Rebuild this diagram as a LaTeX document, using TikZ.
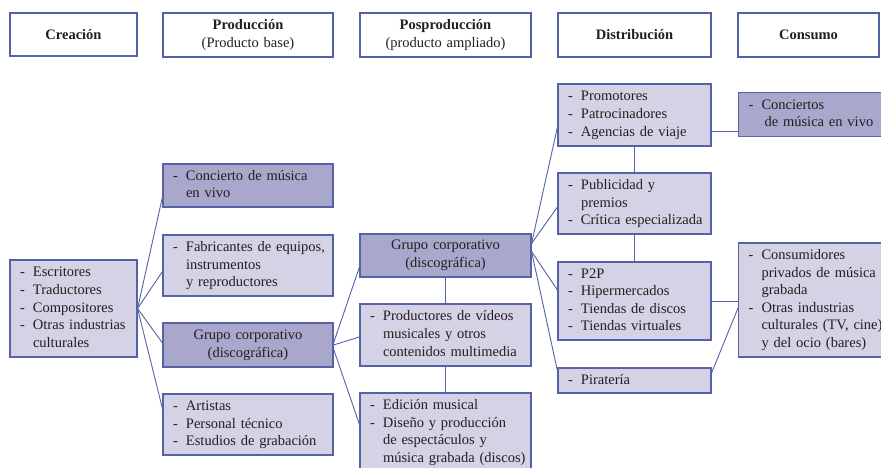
\documentclass[tikz,border=0pt]{standalone}
\usepackage{fontspec}
\setmainfont{Liberation Serif}
\usetikzlibrary{calc}
\definecolor{bord}{RGB}{85,98,168}
\definecolor{lightf}{RGB}{212,210,228}
\definecolor{darkf}{RGB}{169,167,204}
\definecolor{txt}{RGB}{35,31,32}
\newcommand{\dl}{\makebox[13pt][l]{-}}
\newcommand{\ind}{\hspace*{13pt}}
\newcommand{\lst}[1]{\begin{tabular}{@{}l@{}}#1\end{tabular}}
\begin{document}
\begin{tikzpicture}[x=1pt,y=-1pt,
  font=\fontsize{14.5}{17.6}\selectfont, text=txt,
  box/.style={draw=bord, line width=1.1pt, inner xsep=10pt, inner ysep=0pt, align=left},
  lt/.style={box, fill=lightf},
  dk/.style={box, fill=darkf},
  hdr/.style={box, fill=white, align=center},
  ctr/.style={align=center},
  wire/.style={draw=bord, line width=0.9pt}]
\useasboundingbox (0,0) rectangle (881,468);
\fill[white] (0,0) rectangle (881,468);

% headers
\node[hdr, minimum width=127pt, text width=107pt, minimum height=43pt] (hc) at (73.5,34.5) {\textbf{Creación}};
\node[hdr, minimum width=170pt, text width=150pt, minimum height=44pt] (hp) at (248,35) {\textbf{Producción}\\(Producto base)};
\node[hdr, minimum width=171pt, text width=151pt, minimum height=44pt] (hpp) at (445.5,35) {\textbf{Posproducción}\\(producto ampliado)};
\node[hdr, minimum width=153pt, text width=133pt, minimum height=44pt] (hdi) at (634.5,35) {\textbf{Distribución}};
\node[hdr, minimum width=141pt, text width=121pt, minimum height=44pt] (hco) at (808.5,35) {\textbf{Consumo}};

% creation
\node[lt, minimum width=127pt, text width=107pt, minimum height=97pt] (esc) at (73.5,308.5)
  {\lst{\dl Escritores\\\dl Traductores\\\dl Compositores\\\dl Otras industrias\\\ind culturales}};

% production
\node[dk, minimum width=170pt, text width=150pt, minimum height=43pt] (con) at (248,185.5)
  {\lst{\dl Concierto de música\\\ind en vivo}};
\node[lt, minimum width=170pt, text width=150pt, minimum height=61pt] (fab) at (248,265.5)
  {\lst{\dl Fabricantes de equipos,\\\ind instrumentos\\\ind y reproductores}};
\node[dk, ctr, minimum width=170pt, text width=150pt, minimum height=44pt] (gp) at (248,345)
  {Grupo corporativo\\(discográfica)};
\node[lt, minimum width=170pt, text width=150pt, minimum height=61pt] (art) at (248,424.5)
  {\lst{\dl Artistas\\\dl Personal técnico\\\dl Estudios de grabación}};

% postproduction
\node[dk, ctr, minimum width=171pt, text width=151pt, minimum height=43pt] (gpp) at (445.5,255.5)
  {Grupo corporativo\\(discográfica)};
\node[lt, minimum width=171pt, text width=151pt, minimum height=62pt] (prod) at (445.5,335)
  {\lst{\dl Productores de vídeos\\\ind musicales y otros\\\ind contenidos multimedia}};
\node[lt, minimum width=171pt, text width=151pt, minimum height=79pt] (edi) at (445.5,432.5)
  {\lst{\dl Edición musical\\\dl Diseño y producción\\\ind de espectáculos y\\\ind música grabada (discos)}};

% distribution
\node[lt, minimum width=153pt, text width=133pt, minimum height=62pt] (prom) at (634.5,115)
  {\lst{\dl Promotores\\\dl Patrocinadores\\\dl Agencias de viaje}};
\node[lt, minimum width=153pt, text width=133pt, minimum height=61pt] (pub) at (634.5,203.5)
  {\lst{\dl Publicidad y\\\ind premios\\\dl Crítica especializada}};
\node[lt, minimum width=153pt, text width=133pt, minimum height=78pt] (p2p) at (634.5,301)
  {\lst{\dl P2P\\\dl Hipermercados\\\dl Tiendas de discos\\\dl Tiendas virtuales}};
\node[lt, minimum width=153pt, text width=133pt, minimum height=25pt] (pir) at (634.5,380.5)
  {\lst{\dl Piratería}};

% consumption
\node[dk, anchor=west, minimum width=150pt, text width=130pt, minimum height=44pt] (conc) at (738,114.5)
  {\lst{\dl Conciertos\\\ind\hspace*{3pt}de música en vivo}};
\node[lt, anchor=west, minimum width=150pt, text width=130pt, minimum height=114pt] (cons) at (738,300)
  {\lst{\dl Consumidores\\\ind privados de música\\\ind grabada\\\dl Otras industrias\\\ind culturales (TV, cine)\\\ind y del ocio (bares)}};

% connectors
\draw[wire] (esc.east) -- ($(con.west)+(0,11.5)$);
\draw[wire] (esc.east) -- ($(fab.west)+(0,6)$);
\draw[wire] (esc.east) -- ($(gp.west)+(0,-2)$);
\draw[wire] (esc.east) -- ($(art.west)+(0,-16)$);

\draw[wire] ($(gp.east)+(0,-2)$) -- ($(gpp.west)+(0,11.5)$);
\draw[wire] (gp.east) -- ($(prod.west)+(0,2)$);
\draw[wire] ($(gp.east)+(0,4)$) -- ($(edi.west)+(0,-8)$);
\draw[wire] (gpp.south) -- (prod.north);
\draw[wire] (prod.south) -- (edi.north);

\draw[wire] ($(gpp.east)+(0,-12)$) -- ($(prom.west)+(0,12)$);
\draw[wire] ($(gpp.east)+(0,-12)$) -- ($(pub.west)+(0,3.5)$);
\draw[wire] ($(gpp.east)+(0,-4)$) -- ($(p2p.west)+(0,-11)$);
\draw[wire] ($(gpp.east)+(0,-4)$) -- ($(pir.west)+(0,-9.5)$);
\draw[wire] (prom.south) -- (pub.north);
\draw[wire] (pub.south) -- (p2p.north);

\coordinate (pa) at ($(prom.east)+(0,16)$);
\draw[wire] (pa) -- (pa -| conc.west);
\draw[wire] (p2p.east) -- (p2p.east -| cons.west);
\draw[wire] ($(cons.west)+(0,8)$) -- ($(pir.east)+(0,-7.5)$);
\end{tikzpicture}
\end{document}
